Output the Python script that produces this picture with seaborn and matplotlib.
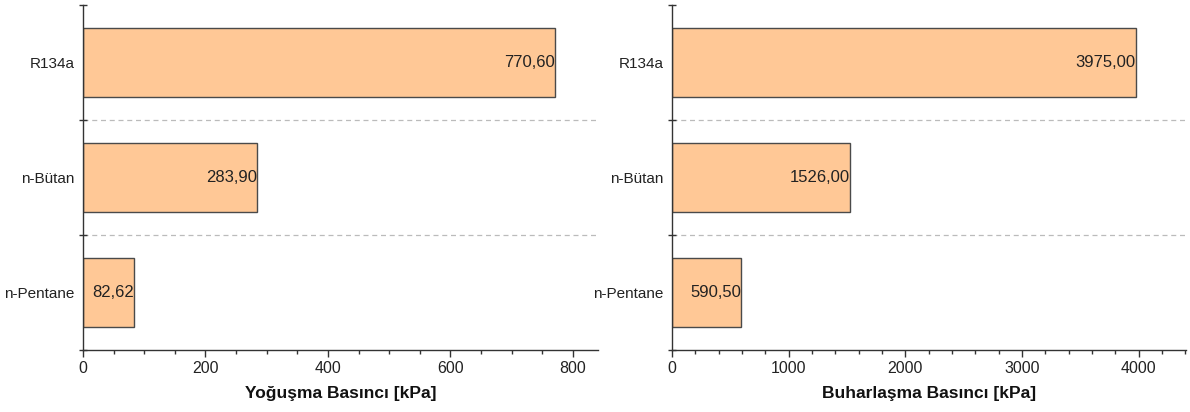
import matplotlib
matplotlib.use("Agg")
import matplotlib.pyplot as plt
from matplotlib.ticker import FixedLocator, MultipleLocator, NullFormatter
import seaborn as sns
import pandas as pd

categories = ["R134a", "n-Bütan", "n-Pentane"]
condensing = [770.60, 283.90, 82.62]
evaporating = [3975.00, 1526.00, 590.50]
xlabels = ["Yoğuşma Basıncı [kPa]", "Buharlaşma Basıncı [kPa]"]

sns.set_theme(style="white")
plt.rcParams["font.family"] = ["Liberation Sans", "DejaVu Sans"]

fig = plt.figure(figsize=(11.9, 4.12), dpi=100)
ax1 = fig.add_axes([83/1190, 1-350/412, (598-83)/1190, 345/412])
ax2 = fig.add_axes([672/1190, 1-350/412, (1186-672)/1190, 345/412])

bar_color = "#FFC896"
edge_color = "#4a4a4a"

specs = [
    (ax1, condensing, 841, 200, 50),
    (ax2, evaporating, 4405, 1000, 200),
]

for i, (ax, vals, xmax, major, minor) in enumerate(specs):
    df = pd.DataFrame({"cat": categories, "val": vals})
    sns.barplot(data=df, x="val", y="cat", orient="h", ax=ax, color=bar_color,
                edgecolor=edge_color, linewidth=1.0, width=0.6, saturation=1)
    ax.set_xlim(0, xmax)
    ax.set_ylim(2.5, -0.5)
    for spine in ["top", "right"]:
        ax.spines[spine].set_visible(False)
    for spine in ["left", "bottom"]:
        ax.spines[spine].set_color("#333333")
        ax.spines[spine].set_linewidth(1.0)
    # y ticks: marks at category boundaries, labels at centres
    ax.yaxis.set_major_locator(FixedLocator([-0.5, 0.5, 1.5, 2.5]))
    ax.yaxis.set_major_formatter(NullFormatter())
    ax.yaxis.set_minor_locator(FixedLocator([0, 1, 2]))
    ax.set_yticklabels(categories, minor=True)
    ax.tick_params(axis="y", which="major", direction="inout", length=6, width=1, color="#333333", left=True)
    ax.tick_params(axis="y", which="minor", length=0, labelsize=11, pad=6, labelcolor="#222222", left=True)
    for yb in [0.5, 1.5]:
        ax.axhline(yb, color="#bbbbbb", linestyle=(0, (4, 3)), linewidth=0.9, zorder=0)
    ax.xaxis.set_major_locator(MultipleLocator(major))
    ax.xaxis.set_minor_locator(MultipleLocator(minor))
    ax.tick_params(axis="x", which="major", direction="out", length=5, width=1, color="#333333",
                   labelsize=11.5, labelcolor="#222222", bottom=True, pad=3)
    ax.tick_params(axis="x", which="minor", direction="out", length=3, width=1, color="#333333", bottom=True)
    ax.set_xlabel(xlabels[i], fontsize=12.5, fontweight="bold", labelpad=7, color="#111111")
    ax.set_ylabel("")
    for j, v in enumerate(vals):
        ax.text(v, j, f"{v:.2f}".replace(".", ","), ha="right", va="center", fontsize=12, color="#222222")

fig.savefig("out.png", dpi=100)
